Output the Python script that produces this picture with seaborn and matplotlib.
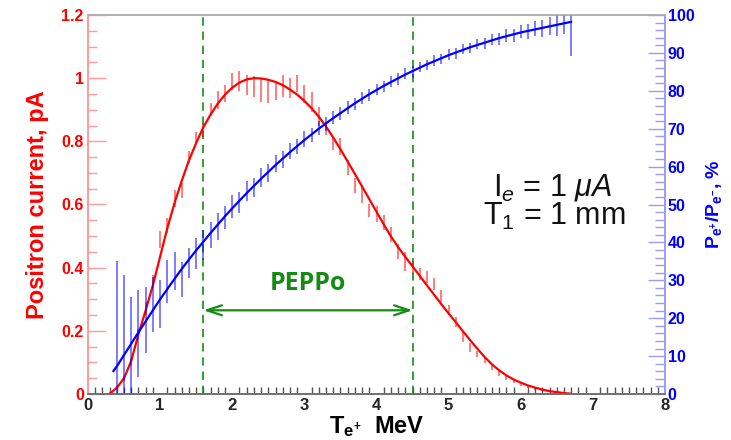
import matplotlib
matplotlib.use("Agg")
import matplotlib.pyplot as plt
import seaborn as sns
import pandas as pd
from matplotlib.ticker import MultipleLocator, FuncFormatter

# Positron kinetic energy bins (MeV)
red_x = [0.3, 0.4, 0.5, 0.6, 0.7, 0.8, 0.9, 1.0, 1.1, 1.2, 1.3, 1.4, 1.5, 1.6, 1.7, 1.8, 1.9,
         2.0, 2.1, 2.2, 2.3, 2.4, 2.5, 2.6, 2.7, 2.8, 2.9, 3.0, 3.1, 3.2, 3.3, 3.4, 3.5, 3.6,
         3.7, 3.8, 3.9, 4.0, 4.1, 4.2, 4.3, 4.4, 4.5, 4.6, 4.7, 4.8, 4.9, 5.0, 5.1, 5.2, 5.3,
         5.4, 5.5, 5.6, 5.7, 5.8, 5.9, 6.0, 6.1, 6.2, 6.3, 6.4, 6.5, 6.6, 6.7]

# Positron current fit (pA)
red_fit = [0.000, 0.020, 0.050, 0.105, 0.190, 0.265, 0.345, 0.435, 0.525, 0.605, 0.675, 0.740,
           0.795, 0.845, 0.885, 0.920, 0.948, 0.970, 0.986, 0.996, 1.000, 0.999, 0.995, 0.988,
           0.978, 0.964, 0.948, 0.928, 0.905, 0.878, 0.847, 0.812, 0.775, 0.736, 0.697, 0.657,
           0.617, 0.577, 0.537, 0.499, 0.465, 0.434, 0.404, 0.374, 0.344, 0.314, 0.284, 0.255,
           0.227, 0.198, 0.170, 0.143, 0.117, 0.094, 0.075, 0.059, 0.046, 0.036, 0.027, 0.020,
           0.014, 0.009, 0.006, 0.003, 0.001]

# Simulated positron current per bin (pA) and its uncertainty
red_val = [0.003, 0.020, 0.050, 0.100, 0.190, 0.270, 0.356, 0.490, 0.533, 0.620, 0.643, 0.749,
           0.810, 0.836, 0.900, 0.930, 0.952, 0.990, 0.990, 0.978, 0.974, 0.963, 0.957, 0.957,
           0.975, 0.968, 0.983, 0.950, 0.925, 0.880, 0.840, 0.794, 0.783, 0.717, 0.660, 0.630,
           0.582, 0.570, 0.543, 0.505, 0.450, 0.420, 0.400, 0.380, 0.370, 0.348, 0.310, 0.266,
           0.229, 0.180, 0.147, 0.127, 0.107, 0.086, 0.065, 0.052, 0.040, 0.030, 0.024, 0.017,
           0.013, 0.009, 0.006, 0.003, 0.002]
red_err = [0.003, 0.005, 0.008, 0.012, 0.015, 0.020, 0.021, 0.027, 0.024, 0.027, 0.024, 0.019,
           0.018, 0.021, 0.020, 0.028, 0.026, 0.026, 0.032, 0.032, 0.033, 0.037, 0.037, 0.027,
           0.034, 0.032, 0.026, 0.028, 0.032, 0.030, 0.020, 0.021, 0.027, 0.024, 0.024, 0.026,
           0.021, 0.024, 0.024, 0.025, 0.024, 0.030, 0.020, 0.020, 0.018, 0.018, 0.019, 0.016,
           0.016, 0.016, 0.013, 0.010, 0.010, 0.010, 0.008, 0.007, 0.006, 0.005, 0.004, 0.004,
           0.003, 0.003, 0.002, 0.002, 0.001]

# Polarization transfer fit (%)
blue_fit_x = [0.35, 0.4, 0.5, 0.6, 0.7, 0.8, 0.9, 1.0, 1.1, 1.2, 1.3, 1.4, 1.5, 1.6, 1.7, 1.8,
              1.9, 2.0, 2.1, 2.2, 2.3, 2.4, 2.5, 2.6, 2.7, 2.8, 2.9, 3.0, 3.1, 3.2, 3.3, 3.4,
              3.5, 3.6, 3.7, 3.8, 3.9, 4.0, 4.1, 4.2, 4.3, 4.4, 4.5, 4.6, 4.7, 4.8, 4.9, 5.0,
              5.1, 5.2, 5.3, 5.4, 5.5, 5.6, 5.7, 5.8, 5.9, 6.0, 6.1, 6.2, 6.3, 6.4, 6.5, 6.6, 6.7]
blue_fit = [6.0, 7.3, 10.3, 13.3, 16.3, 19.2, 22.1, 25.0, 27.7, 30.4, 33.0, 35.5, 37.9, 40.2,
            42.5, 44.7, 46.9, 49.0, 51.0, 53.0, 54.9, 56.8, 58.6, 60.4, 62.1, 63.8, 65.4, 67.0,
            68.5, 70.0, 71.4, 72.8, 74.1, 75.4, 76.7, 77.9, 79.1, 80.2, 81.3, 82.3, 83.3, 84.3,
            85.2, 86.1, 87.0, 87.8, 88.6, 89.4, 90.1, 90.8, 91.5, 92.1, 92.7, 93.3, 93.9, 94.4,
            94.9, 95.4, 95.8, 96.2, 96.6, 97.0, 97.4, 97.8, 98.2]

# Polarization transfer per bin (%) and its uncertainty
blue_x = red_x[1:]
blue_val = [12.0, 8.0, 5.0, 16.0, 19.5, 23.7, 23.7, 29.6, 32.5, 30.3, 34.5, 37.1, 39.3, 42.0,
            44.2, 46.5, 49.5, 50.5, 53.5, 54.5, 57.2, 58.3, 60.8, 61.8, 64.1, 65.2, 67.3, 68.3,
            70.2, 71.2, 73.0, 73.9, 75.6, 76.5, 78.1, 78.9, 80.4, 81.1, 82.5, 83.1, 84.5, 85.0,
            86.3, 86.8, 88.0, 88.4, 89.6, 89.9, 91.0, 91.3, 92.3, 92.5, 93.5, 93.7, 94.6, 94.7,
            95.6, 95.6, 96.4, 96.4, 97.2, 97.3, 98.0, 98.2]
blue_err = [23.0, 23.5, 20.7, 11.4, 8.8, 7.3, 6.4, 5.7, 5.0, 4.6, 4.0, 4.0, 4.0, 3.5, 3.5, 3.0,
            3.0, 2.8, 2.7, 2.6, 2.5, 2.4, 2.3, 2.2, 2.1, 2.0, 2.0, 1.9, 1.9, 1.8, 1.8, 1.7, 1.7,
            1.6, 1.6, 1.6, 1.5, 1.5, 1.5, 1.5, 1.5, 1.5, 1.4, 1.4, 1.4, 1.4, 1.4, 1.4, 1.4, 1.4,
            1.4, 1.5, 1.5, 1.6, 1.6, 1.7, 1.8, 1.9, 2.0, 2.2, 2.4, 2.8, 3.0, 9.0]

# PEPPo energy acceptance window (MeV)
peppo_window = [1.6, 4.5]

RED = "#ff0000"
BLUE = "#0000ff"
GREEN = "#148c14"
PINK_AXIS = "#ff9a9a"
BLUE_AXIS = "#9a9aff"

sns.set_theme(style="white")
plt.rcParams["font.family"] = ["Liberation Sans", "DejaVu Sans"]
plt.rcParams["mathtext.fontset"] = "custom"
plt.rcParams["mathtext.rm"] = "Liberation Sans"
plt.rcParams["mathtext.it"] = "Liberation Sans:italic"
plt.rcParams["mathtext.bf"] = "Liberation Sans:bold"

fig = plt.figure(figsize=(7.31, 4.40), dpi=100)
ax = fig.add_axes([88 / 731, 1 - 394 / 440, (665 - 88) / 731, (394 - 15) / 440])
ax2 = ax.twinx()

red_fit_df = pd.DataFrame({"T": red_x, "I": red_fit})
blue_fit_df = pd.DataFrame({"T": blue_fit_x, "P": blue_fit})

# current: data with errors and fitted curve
ax.errorbar(red_x, red_val, yerr=red_err, fmt="none", ecolor=RED, elinewidth=1.1,
            alpha=0.65, capsize=0, zorder=2)
sns.lineplot(data=red_fit_df, x="T", y="I", ax=ax, color=RED, linewidth=1.6,
             zorder=3, legend=False)

# polarization transfer: data with errors and fitted curve
ax2.errorbar(blue_x, blue_val, yerr=blue_err, fmt="none", ecolor=BLUE,
             elinewidth=1.1, alpha=0.65, capsize=0, zorder=2)
sns.lineplot(data=blue_fit_df, x="T", y="P", ax=ax2, color=BLUE, linewidth=1.6,
             zorder=3, legend=False)

# acceptance window
for xv in peppo_window:
    ax.axvline(xv, color=GREEN, linestyle=(0, (5, 3.5)), linewidth=1.2, zorder=1)
ax.annotate("", xy=(peppo_window[0], 0.265), xytext=(peppo_window[1], 0.265),
            arrowprops=dict(arrowstyle="<->,head_length=0.9,head_width=0.3",
                            color=GREEN, lw=1.6, shrinkA=0, shrinkB=0))
ax.text(3.05, 0.35, "PEPPo", color=GREEN, fontsize=18, fontweight="bold",
        ha="center", va="center", family=["Open Sans", "DejaVu Sans"])

# beam conditions
ax.text(6.44, 0.63, r"I$_e$ = 1 $\mu A$", fontsize=22, ha="center", va="baseline",
        color="#111111")
ax.text(6.47, 0.535, r"T$_1$ = 1 mm", fontsize=22, ha="center", va="baseline",
        color="#111111")

# axes ranges and ticks
ax.set_xlim(0, 8)
ax.set_ylim(0, 1.2)
ax2.set_ylim(0, 100)

ax.xaxis.set_major_locator(MultipleLocator(1))
ax.xaxis.set_minor_locator(MultipleLocator(0.1))
ax.yaxis.set_major_locator(MultipleLocator(0.2))
ax.yaxis.set_minor_locator(MultipleLocator(0.05))
ax2.yaxis.set_major_locator(MultipleLocator(10))
ax2.yaxis.set_minor_locator(MultipleLocator(2))

ax.yaxis.set_major_formatter(FuncFormatter(lambda v, p: f"{v:g}"))
ax.xaxis.set_major_formatter(FuncFormatter(lambda v, p: f"{v:g}"))

ax.tick_params(axis="x", which="major", direction="in", length=8, width=1,
               color="#555555", labelsize=12, pad=3, top=False)
ax.tick_params(axis="x", which="minor", direction="in", length=5, width=1,
               color="#555555", top=False, bottom=True)
ax.tick_params(axis="y", which="major", direction="in", length=13, width=1,
               color=PINK_AXIS, labelcolor=RED, labelsize=11.5, pad=3, right=False)
ax.tick_params(axis="y", which="minor", direction="in", length=6.5, width=1,
               color=PINK_AXIS, right=False, left=True)
ax2.tick_params(axis="y", which="major", direction="in", length=12, width=1,
                color=BLUE_AXIS, labelcolor=BLUE, labelsize=11.5, pad=2)
ax2.tick_params(axis="y", which="minor", direction="in", length=7, width=1,
                color=BLUE_AXIS)

for lab in ax.get_xticklabels() + ax.get_yticklabels() + ax2.get_yticklabels():
    lab.set_fontweight("bold")

for a in (ax, ax2):
    a.spines["left"].set_color(PINK_AXIS)
    a.spines["right"].set_color(BLUE_AXIS)
    a.spines["top"].set_color("#b0b0b0")
    a.spines["bottom"].set_color("#707070")
    for s in a.spines.values():
        s.set_linewidth(1.2)
ax2.grid(False)
ax.grid(False)

ax.set_xlabel(r"T$_{\mathbf{e}^{\mathbf{+}}}$  MeV", fontsize=17, fontweight="bold",
              color="black", labelpad=1)
ax.set_ylabel("Positron current, pA", fontsize=17, fontweight="bold", color=RED,
              labelpad=9)
ax2.set_ylabel(r"P$_{\mathbf{e}^{\mathbf{+}}}$/P$_{\mathbf{e}^{\mathbf{-}}}$, %",
               fontsize=14, fontweight="bold", color=BLUE, labelpad=7)

fig.savefig("out.png", dpi=100, facecolor="white")
